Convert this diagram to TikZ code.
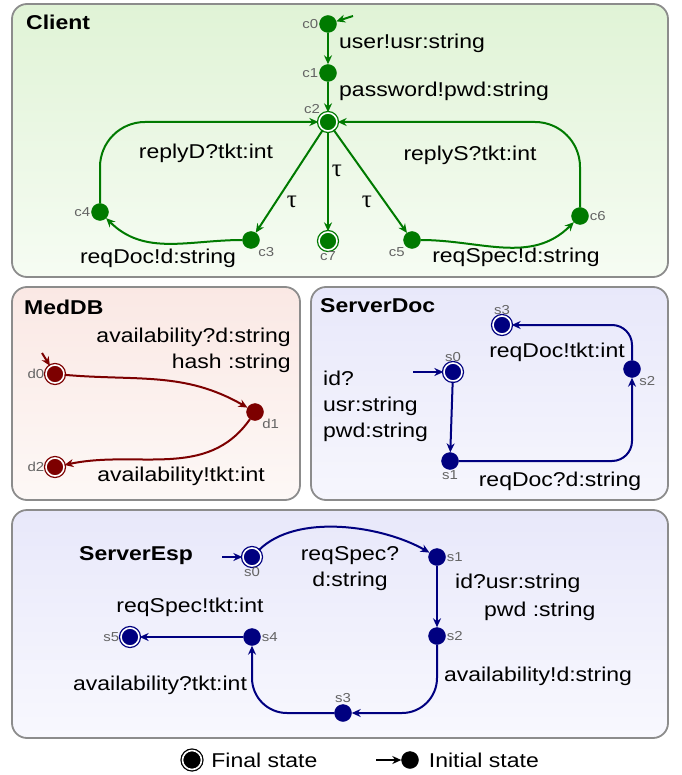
\documentclass[tikz,border=0pt]{standalone}
\usepackage{fontspec}
\setmainfont[FakeStretch=1.15]{Liberation Sans}
\newfontfamily\taufont{Liberation Serif}
\usetikzlibrary{arrows.meta}
\usetikzlibrary{positioning}
\definecolor{cligreen}{RGB}{0,122,0}
\definecolor{dbred}{RGB}{125,0,0}
\definecolor{srvblue}{RGB}{0,0,128}
\definecolor{namegray}{RGB}{100,100,100}
\definecolor{panelgray}{RGB}{140,140,140}
\tikzset{%
  mystate/.style={circle, fill=#1, draw=#1, inner sep=0pt, minimum size=17pt},
  myfinal/.style={circle, fill=#1, draw=#1, double=white, double distance=1.6pt,
    line width=1.3pt, inner sep=0pt, minimum size=18pt},
  myedge/.style={-{Stealth[length=9pt,width=8pt]}, line width=2pt, draw=#1},
  mypanel/.style={draw=panelgray, line width=1.8pt, rounded corners=15pt},
  mytext/.style={font=\fontsize{20}{26}\selectfont, inner sep=0pt},
  mytau/.style={font=\fontsize{25}{26}\selectfont\taufont, inner sep=0pt},
  mytitle/.style={font=\fontsize{20}{26}\selectfont\bfseries, inner sep=0pt},
  myname/.style={font=\fontsize{13}{16}\selectfont, text=namegray, inner sep=1pt}
}

\begin{document}
\begin{tikzpicture}[x=1pt, y=1pt]
  \useasboundingbox (0,0) rectangle (681,-775);
  % panels
  \draw[mypanel, top color={rgb,255:red,224;green,243;blue,214}, bottom color={rgb,255:red,246;green,252;blue,243}] (12,-4) rectangle (668,-277);
  \draw[mypanel, top color={rgb,255:red,250;green,232;blue,228}, bottom color={rgb,255:red,253;green,248;blue,246}] (12,-287) rectangle (300,-500);
  \draw[mypanel, top color={rgb,255:red,232;green,232;blue,250}, bottom color={rgb,255:red,246;green,246;blue,253}] (311,-287) rectangle (668,-500);
  \draw[mypanel, top color={rgb,255:red,232;green,232;blue,250}, bottom color={rgb,255:red,248;green,248;blue,254}] (12,-510) rectangle (668,-738);

  % Client
  \node[mytitle, anchor=west] (tclient) at (26,-22) {Client};
  \node[mystate=cligreen, label={[myname]left:c0}] (c0) at (328,-24) {};
  \node[mystate=cligreen, label={[myname]left:c1}] (c1) at (328,-73) {};
  \node[myfinal=cligreen, label={[myname]above left:c2}] (c2) at (328,-122) {};
  \node[mystate=cligreen, label={[myname]below right:c3}] (c3) at (251,-240) {};
  \node[mystate=cligreen, label={[myname]left:c4}] (c4) at (100,-212) {};
  \node[mystate=cligreen, label={[myname]below left:c5}] (c5) at (412,-240) {};
  \node[mystate=cligreen, label={[myname]right:c6}] (c6) at (580,-216) {};
  \node[myfinal=cligreen, label={[myname]below:c7}] (c7) at (328,-241) {};
  \coordinate (c0in) at (353,-16);
  \draw[myedge=cligreen] (c0in) -- (c0);
  \draw[myedge=cligreen] (c0) -- (c1);
  \draw[myedge=cligreen] (c1) -- (c2);
  \draw[myedge=cligreen] (c2) -- (c3);
  \draw[myedge=cligreen] (c2) -- (c7);
  \draw[myedge=cligreen] (c2) -- (c5);
  \draw[myedge=cligreen] (c3) to[out=180, in=-45] (c4);
  \draw[myedge=cligreen] (c5) to[out=0, in=-135] (c6);
  \draw[myedge=cligreen, rounded corners=45pt] (c4) |- (c2);
  \draw[myedge=cligreen, rounded corners=45pt] (c6) |- (c2);
  \node[mytext, anchor=west] at (339,-43) {user!usr:string};
  \node[mytext, anchor=west] at (339,-91) {password!pwd:string};
  \node[mytext] at (206,-153) {replyD?tkt:int};
  \node[mytext] at (470,-155) {replyS?tkt:int};
  \node[mytau] at (292,-202) {τ};
  \node[mytau] at (337,-171) {τ};
  \node[mytau] at (367,-202) {τ};
  \node[mytext] at (158,-258) {reqDoc!d:string};
  \node[mytext] at (516,-257) {reqSpec!d:string};

  % MedDB
  \node[mytitle, anchor=west] (tmeddb) at (24,-307) {MedDB};
  \node[myfinal=dbred, label={[myname]left:d0}] (d0) at (55,-374) {};
  \node[mystate=dbred, label={[myname]below right:d1}] (d1) at (255,-412) {};
  \node[myfinal=dbred, label={[myname]left:d2}] (d2) at (55,-467) {};
  \coordinate (d0in) at (42,-353);
  \draw[myedge=dbred] (d0in) -- (d0);
  \draw[myedge=dbred] (d0) to[out=-5, in=150] (d1);
  \draw[myedge=dbred] (d1) to[out=-125, in=12] (d2);
  \node[mytext, align=right, anchor=east] at (291,-350) {availability?d:string\\hash :string};
  \node[mytext] at (181,-476) {availability!tkt:int};

  % ServerDoc
  \node[mytitle, anchor=west] (tsrvdoc) at (320,-306) {ServerDoc};
  \node[myfinal=srvblue, label={[myname]above:s0}] (sd0) at (453,-372) {};
  \node[mystate=srvblue, label={[myname]below:s1}] (sd1) at (450,-461) {};
  \node[mystate=srvblue, label={[myname]below right:s2}] (sd2) at (632,-369) {};
  \node[myfinal=srvblue, label={[myname]above:s3}] (sd3) at (502,-325) {};
  \coordinate (sd0in) at (413,-372);
  \draw[myedge=srvblue] (sd0in) -- (sd0);
  \draw[myedge=srvblue] (sd0) -- (sd1);
  \draw[myedge=srvblue, rounded corners=20pt] (sd1) -| (sd2);
  \draw[myedge=srvblue, rounded corners=20pt] (sd2) |- (sd3);
  \node[mytext, align=left, anchor=west] at (323,-406) {id?\\usr:string\\pwd:string};
  \node[mytext] at (557,-352) {reqDoc!tkt:int};
  \node[mytext] at (560,-481) {reqDoc?d:string};

  % ServerEsp
  \node[mytitle, anchor=west] (tsrvesp) at (79,-556) {ServerEsp};
  \node[myfinal=srvblue, label={[myname]below:s0}] (se0) at (252,-557) {};
  \node[mystate=srvblue, label={[myname]right:s1}] (se1) at (437,-557) {};
  \node[mystate=srvblue, label={[myname]right:s2}] (se2) at (437,-636) {};
  \node[mystate=srvblue, label={[myname]above:s3}] (se3) at (343,-713) {};
  \node[mystate=srvblue, label={[myname]right:s4}] (se4) at (252,-637) {};
  \node[myfinal=srvblue, label={[myname]left:s5}] (se5) at (130,-637) {};
  \coordinate (se0in) at (222,-557);
  \draw[myedge=srvblue] (se0in) -- (se0);
  \draw[myedge=srvblue] (se0) to[out=45, in=150, looseness=0.8] (se1);
  \draw[myedge=srvblue] (se1) -- (se2);
  \draw[myedge=srvblue, rounded corners=35pt] (se2) |- (se3);
  \draw[myedge=srvblue, rounded corners=35pt] (se3) -| (se4);
  \draw[myedge=srvblue] (se4) -- (se5);
  \node[mytext, align=center] at (350,-569) {reqSpec?\\d:string};
  \node[mytext, anchor=west] at (455,-583) {id?usr:string};
  \node[mytext, anchor=west] at (484,-611) {pwd :string};
  \node[mytext] at (538,-676) {availability!d:string};
  \node[mytext] at (160,-685) {availability?tkt:int};
  \node[mytext] at (190,-607) {reqSpec!tkt:int};

  % legend
  \node[myfinal=black, minimum size=19pt] (legfin) at (192,-760) {};
  \node[mytext, right=9pt of legfin] (legfintxt) {Final state};
  \coordinate (legin) at (376,-760);
  \node[mystate=black] (legini) at (410,-760) {};
  \draw[myedge=black] (legin) -- (legini);
  \node[mytext, right=10pt of legini] (leginitxt) {Initial state};
\end{tikzpicture}
\end{document}
